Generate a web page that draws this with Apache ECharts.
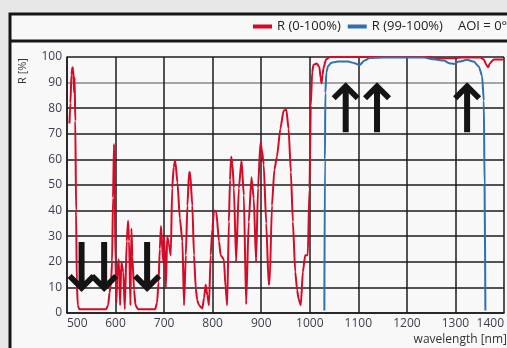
<!DOCTYPE html>
<html>
<head>
<meta charset="utf-8">
<script src="https://cdn.jsdelivr.net/npm/echarts@6/dist/echarts.min.js"></script>
<style>
html,body{margin:0;padding:0;background:#e7e7e7;}
#c{width:507px;height:348px;}
</style>
</head>
<body>
<div id="c"></div>
<script>
// ---- data ----
const redWavelength = [505,507.1,509.1,511.1,513.1,514.6,515.6,517.1,518.7,520.2,522.2,525.2,580.7,584.7,587.7,590.7,592.8,594.8,596.8,598.3,599.8,601.8,603.8,606.6,609.4,611.9,615.9,619,623,625.8,627.8,630.6,632.6,634.6,638.1,641.1,646.2,681.5,685.5,688.5,691.1,693.6,698.1,700.2,703.7,706.4,709.7,713.7,716.6,719.8,722.8,727.5,732.4,737.7,741,744.7,748,751.4,753.5,758.1,761.6,765.2,768.2,771.9,778.7,782.3,785.6,789,792.4,795.9,799.4,802.7,807.5,813,816.4,823.1,826.7,829.9,833.4,835.7,838.1,840.8,843.7,848.3,853.9,859.4,864.2,868.9,874.3,879.9,884.6,889.4,893.4,898.3,901.3,905.1,910.3,915.4,917.4,922.1,927.1,932.4,939.4,946.1,951.7,956.3,961.1,965.2,970.1,973.9,976.9,981.5,985.7,990.6,995.9,999.4,1002.1,1004.9,1007.6,1014.2,1019.8,1022.2,1024.3,1026.3,1028.1,1033.3,1041.4,1246,1261,1296.5,1316.6,1351.5,1358.5,1363.5,1367.3,1370.8,1379,1400];
const redR = [74,82,93,96,95,86,92,75,40,12,3,1.5,1.5,3,8,12,20,45,66,50,20,4,17,21,3,20,16,1.5,28,36,28,3,33,22,9,3,1.5,1.5,4,12,25,34,20,30,10,30,27,22.5,48.7,57,59.7,51,37,28,3,22.6,42,55,55,42,22.6,9.7,5,3,1.8,6,11,7,3,22.6,33,40,39.5,28,22.6,21,9.7,3,35.6,52,61,58,48.7,20,48.7,59.7,46,3.4,35.6,53,44.8,20,48.7,66.5,64,58,35,11,12,42,56,61,72,79,79.5,72,55,35.6,16,9,5.6,3,16,22.6,22.6,48.7,81,94,97,97.5,96,92,89.7,93,95.5,99,100,100,99.6,99.5,99.9,99.8,99,97,96,97.5,99,99];

const blueWavelength = [1030,1031.2,1032.1,1034.2,1037.7,1044.4,1058,1078.6,1092.3,1102.5,1112.8,1123,1150,1235.6,1256,1276.5,1286.7,1297,1307.2,1324.2,1337.9,1348.1,1354.9,1358.4,1360,1361.7];
const blueR = [1,60,86,94,96.5,97.8,98.2,98.2,97.6,96.9,98.6,99.6,99.8,99.8,99.1,98.6,97.6,97.3,98.2,98.9,98.2,96.3,92.5,83,50,1];

const downArrowX = [530, 576.5, 665];
const downArrowY = 18;
const upArrowX = [1074, 1138.5, 1324];
const upArrowY = 80.4;

const xMin = 500, xMax = 1400, xStep = 100;
const yMin = 0, yMax = 100, yStep = 10;

const seriesNames = ['R (0-100%)', 'R (99-100%)'];
const aoiText = 'AOI = 0°';
const yTitle = 'R [%]';
const xTitle = 'wavelength [nm]';

// ---- build ----
const zip = (xs, ys) => xs.map((x, i) => [x, ys[i]]);
const DOWN = 'path://M11,0L17,0L17,39L24,32L28,36L14,50L0,36L4,32L11,39Z';
const UP = 'path://M11,50L17,50L17,11L24,18L28,14L14,0L0,14L4,18L11,11Z';
const arrowData = downArrowX.map(x => ({coord: [x, downArrowY], symbol: DOWN}))
  .concat(upArrowX.map(x => ({coord: [x, upArrowY], symbol: UP})));

const FONT = 'Open Sans';
const gridColors = [];
for (let v = yMin; v <= yMax; v += yStep) gridColors.push(v === 90 ? '#8a8a8a' : '#1c1c1c');

const chart = echarts.init(document.getElementById('c'), null, {renderer: 'canvas'});
chart.setOption({
  animation: false,
  backgroundColor: '#e7e7e7',
  graphic: [
    {type: 'rect', z: -100, silent: true,
     shape: {x: 10, y: 14, width: 530, height: 370},
     style: {fill: '#f8f8f8', stroke: '#161616', lineWidth: 3}},
    {type: 'line', z: -99, silent: true,
     shape: {x1: 10, y1: 41, x2: 540, y2: 41},
     style: {stroke: '#161616', lineWidth: 3}},
    {type: 'text', left: 458, top: 20, silent: true,
     style: {text: aoiText, font: '13px "' + FONT + '"', fill: '#222'}},
    {type: 'text', silent: true, x: 23, y: 71, rotation: Math.PI / 2,
     style: {text: yTitle, font: '11px "' + FONT + '"', fill: '#333', align: 'center', verticalAlign: 'middle'}},
    {type: 'text', silent: true, right: 0, top: 334,
     style: {text: xTitle, font: '12px "' + FONT + '"', fill: '#333'}}
  ],
  legend: {
    data: seriesNames,
    left: 253, top: 20, padding: 0,
    icon: 'rect', itemWidth: 19, itemHeight: 4, itemGap: 7,
    textStyle: {fontFamily: FONT, fontSize: 13, color: '#222'},
    selectedMode: false
  },
  grid: {left: 67, right: 0, top: 57, bottom: 35},
  xAxis: {
    type: 'value', min: xMin, max: xMax, interval: xStep,
    axisLine: {show: true, lineStyle: {color: '#1c1c1c', width: 1.5}},
    axisTick: {show: false},
    splitLine: {show: true, lineStyle: {color: '#1c1c1c', width: 1.5}},
    axisLabel: {fontFamily: FONT, fontSize: 12, color: '#3c3c4c', margin: 5,
      formatter: v => String(v),
      alignMinLabel: 'left', alignMaxLabel: 'right', hideOverlap: false}
  },
  yAxis: {
    type: 'value', min: yMin, max: yMax, interval: yStep,
    axisLine: {show: true, lineStyle: {color: '#1c1c1c', width: 1.5}},
    axisTick: {show: false},
    splitLine: {show: true, lineStyle: {color: gridColors, width: 1.5}},
    axisLabel: {fontFamily: FONT, fontSize: 12, color: '#3c3c4c', margin: 5}
  },
  series: [
    {
      name: seriesNames[0], type: 'line', data: zip(redWavelength, redR),
      showSymbol: false, smooth: 0.2, smoothMonotone: 'x',
      lineStyle: {color: '#d40a26', width: 2}, itemStyle: {color: '#d40a26'}, z: 3
    },
    {
      name: seriesNames[1], type: 'line', data: zip(blueWavelength, blueR),
      showSymbol: false, smooth: 0.2, smoothMonotone: 'x',
      lineStyle: {color: '#2f70ad', width: 2}, itemStyle: {color: '#2f70ad'}, z: 4,
      markPoint: {
        silent: true, symbolSize: [28, 50], symbolKeepAspect: false,
        itemStyle: {color: '#141414'}, label: {show: false},
        data: arrowData
      }
    }
  ]
});
</script>
</body>
</html>
